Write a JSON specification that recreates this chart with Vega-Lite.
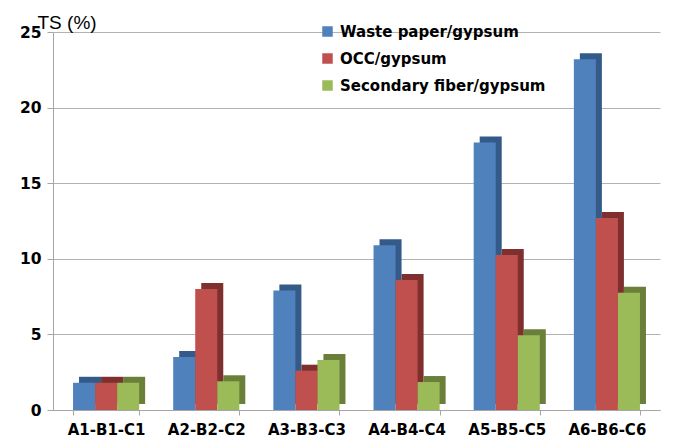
{
  "$schema": "https://vega.github.io/schema/vega-lite/v6.json",
  "autosize": {"type": "none"},
  "width": 607,
  "height": 378,
  "padding": {"left": 53, "top": 32, "right": 13, "bottom": 34},
  "background": "white",
  "data": {
    "values": [
      {"group": "A1-B1-C1", "series": "Waste paper/gypsum", "ts": 1.8},
      {"group": "A1-B1-C1", "series": "OCC/gypsum", "ts": 1.8},
      {"group": "A1-B1-C1", "series": "Secondary fiber/gypsum", "ts": 1.8},
      {"group": "A2-B2-C2", "series": "Waste paper/gypsum", "ts": 3.5},
      {"group": "A2-B2-C2", "series": "OCC/gypsum", "ts": 8.0},
      {"group": "A2-B2-C2", "series": "Secondary fiber/gypsum", "ts": 1.9},
      {"group": "A3-B3-C3", "series": "Waste paper/gypsum", "ts": 7.9},
      {"group": "A3-B3-C3", "series": "OCC/gypsum", "ts": 2.6},
      {"group": "A3-B3-C3", "series": "Secondary fiber/gypsum", "ts": 3.3},
      {"group": "A4-B4-C4", "series": "Waste paper/gypsum", "ts": 10.9},
      {"group": "A4-B4-C4", "series": "OCC/gypsum", "ts": 8.6},
      {"group": "A4-B4-C4", "series": "Secondary fiber/gypsum", "ts": 1.85},
      {"group": "A5-B5-C5", "series": "Waste paper/gypsum", "ts": 17.7},
      {"group": "A5-B5-C5", "series": "OCC/gypsum", "ts": 10.25},
      {"group": "A5-B5-C5", "series": "Secondary fiber/gypsum", "ts": 4.95},
      {"group": "A6-B6-C6", "series": "Waste paper/gypsum", "ts": 23.2},
      {"group": "A6-B6-C6", "series": "OCC/gypsum", "ts": 12.7},
      {"group": "A6-B6-C6", "series": "Secondary fiber/gypsum", "ts": 7.75}
    ]
  },
  "encoding": {
    "x": {
      "field": "group", "type": "nominal",
      "scale": {"paddingInner": 0.34, "paddingOuter": 0.2},
      "axis": {
        "title": null, "labelAngle": 0,
        "labelFont": "DejaVu Sans", "labelFontWeight": "bold", "labelFontSize": 15,
        "labelColor": "black", "labelPadding": 7,
        "domainColor": "#a6a6a6", "tickColor": "#a6a6a6", "tickBand": "extent", "tickSize": 5
      }
    },
    "y": {
      "field": "ts", "type": "quantitative",
      "scale": {"domain": [0, 25], "nice": false},
      "axis": {
        "values": [0, 5, 10, 15, 20, 25],
        "title": "TS (%)", "titleAngle": 0, "titleX": -16, "titleY": -10,
        "titleAlign": "left", "titleBaseline": "middle",
        "titleFont": "Liberation Sans", "titleFontSize": 19, "titleFontWeight": "normal", "titleColor": "black",
        "labelFont": "DejaVu Sans", "labelFontWeight": "bold", "labelFontSize": 15.5, "labelColor": "black",
        "labelPadding": 6,
        "domainColor": "#a6a6a6", "tickColor": "#a6a6a6", "tickSize": 6,
        "grid": true, "gridColor": "#b3b3b3", "gridWidth": 1.2
      }
    }
  },
  "layer": [
    {
      "mark": {"type": "bar", "yOffset": -6},
      "encoding": {
        "xOffset": {"field": "series", "type": "nominal", "sort": ["Waste paper/gypsum", "OCC/gypsum", "Secondary fiber/gypsum"], "scale": {"range": [6, 72.1]}},
        "color": {
          "field": "series", "type": "nominal",
          "scale": {"domain": ["Waste paper/gypsum", "OCC/gypsum", "Secondary fiber/gypsum"], "range": ["#345a8a", "#7f302e", "#6a7f3a"]},
          "legend": null
        }
      }
    },
    {
      "mark": {"type": "bar"},
      "encoding": {
        "xOffset": {"field": "series", "type": "nominal", "sort": ["Waste paper/gypsum", "OCC/gypsum", "Secondary fiber/gypsum"]},
        "fill": {
          "field": "series", "type": "nominal",
          "scale": {"domain": ["Waste paper/gypsum", "OCC/gypsum", "Secondary fiber/gypsum"], "range": ["#4f81bd", "#c0504d", "#9bbb59"]},
          "legend": {
            "title": null, "orient": "none", "legendX": 267, "legendY": -8,
            "symbolType": "square", "symbolSize": 110, "symbolStrokeWidth": 0,
            "labelFont": "DejaVu Sans", "labelFontWeight": "bold", "labelFontSize": 15, "labelColor": "black",
            "labelLimit": 0, "rowPadding": 11, "labelOffset": 5
          }
        }
      }
    }
  ],
  "resolve": {
    "scale": {"xOffset": "independent", "color": "independent", "fill": "independent"},
    "legend": {"color": "independent", "fill": "independent"}
  },
  "config": {"view": {"stroke": null}}
}
